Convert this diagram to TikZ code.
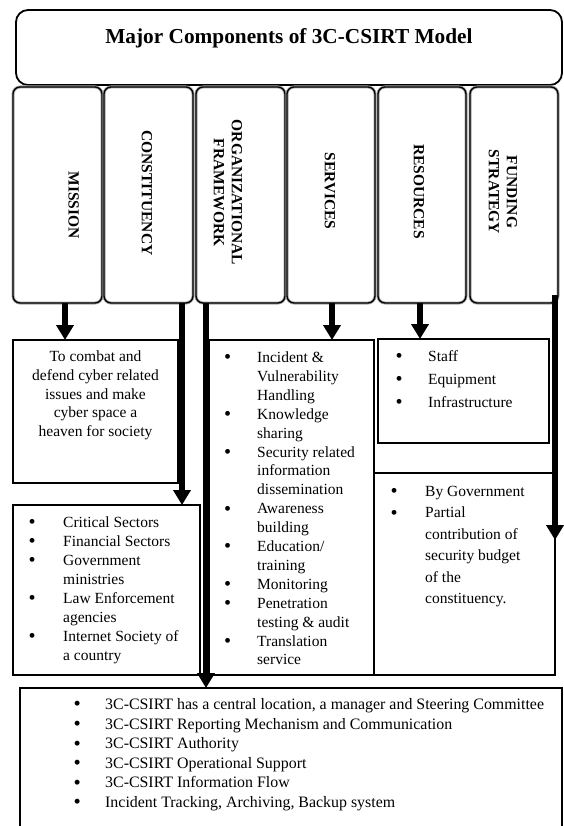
\documentclass[tikz,border=0pt]{standalone}
\usepackage{fontspec}
\setmainfont{Liberation Serif}
\usetikzlibrary{arrows.meta}
\newcommand\blist[2]{\begin{tabular}[t]{@{}p{#1}@{}l@{}}#2\end{tabular}}
\newcommand\bul{\raisebox{-1.4pt}{\scalebox{1.3}{\textbullet}}}
\tikzset{
  col/.style={draw=black, line width=1.3pt, rounded corners=7pt, anchor=north west, inner sep=0pt, outer sep=0pt, preaction={draw=black!35, line width=3pt}},
  box/.style={draw=black, line width=1.4pt, anchor=north west, inner sep=0pt, outer sep=0pt},
  tbox/.style={draw=black, line width=1.8pt, rounded corners=12pt, anchor=north west, inner sep=0pt, outer sep=0pt},
  arr/.style={line width=6.5pt, -{Triangle[width=17pt,length=15pt]}},
  lbl/.style={font=\fontsize{15.5}{18}\selectfont\bfseries, rotate=-90, align=center, inner sep=0pt},
  lst/.style={inner sep=0pt, anchor=base west},
}
\begin{document}
\begin{tikzpicture}[x=1pt, y=-1pt]
\path[use as bounding box, fill=white] (0,0) rectangle (563,826);

% title
\node[tbox, minimum width=546pt, minimum height=75pt] (title) at (16,10) {};
\node[anchor=base, inner sep=0pt, font=\fontsize{21.3}{24}\selectfont\bfseries] (titletext) at (289,44) {Major Components of 3C-CSIRT Model};

% columns
\node[col, minimum width=89pt, minimum height=216pt] (c1) at (13,87) {};
\node[col, minimum width=89pt, minimum height=216pt] (c2) at (104,87) {};
\node[col, minimum width=89pt, minimum height=216pt] (c3) at (196,87) {};
\node[col, minimum width=88pt, minimum height=216pt] (c4) at (287,87) {};
\node[col, minimum width=88pt, minimum height=216pt] (c5) at (378,87) {};
\node[col, minimum width=88pt, minimum height=216pt] (c6) at (470,87) {};

\node[lbl] (l1) at (73.6,205) {MISSION};
\node[lbl] (l2) at (147,193) {CONSTITUENCY};
\node[lbl] (l3) at (228,192.5) {ORGANIZATIONAL\\FRAMEWORK};
\node[lbl] (l4) at (330,191) {SERVICES};
\node[lbl] (l5) at (419,191.5) {RESOURCES};
\node[lbl] (l6) at (503,192) {FUNDING\\STRATEGY};

% boxes
\node[box, minimum width=165pt, minimum height=143pt] (mission) at (13,340) {};
\node[box, minimum width=187pt, minimum height=170pt] (constit) at (13,505) {};
\node[box, minimum width=165pt, minimum height=335pt] (services) at (209,340) {};
\node[box, minimum width=171pt, minimum height=104pt] (resources) at (378,339) {};
\node[box, minimum width=181pt, minimum height=202pt] (funding) at (374,473) {};
\node[box, minimum width=542pt, minimum height=160pt] (bottom) at (20,688) {};

% texts
\node[anchor=base, inner sep=0pt, font=\fontsize{15.5}{18.8}\selectfont] (mtext) at (95.5,361.5)
  {\begin{tabular}[t]{@{}c@{}}To combat and\\defend cyber related\\issues and make\\cyber space a\\heaven for society\end{tabular}};

\node[lst, font=\fontsize{15.5}{19}\selectfont] (ctext) at (28.5,527.5)
  {\blist{34.5pt}{\bul & Critical Sectors\\ \bul & Financial Sectors\\ \bul & Government\\ & ministries\\ \bul & Law Enforcement\\ & agencies\\ \bul & Internet Society of\\ & a country}};

\node[lst, font=\fontsize{15.5}{18.9}\selectfont] (stext) at (224,362.5)
  {\blist{33pt}{\bul & Incident \&\\ & Vulnerability\\ & Handling\\ \bul & Knowledge\\ & sharing\\ \bul & Security related\\ & information\\ & dissemination\\ \bul & Awareness\\ & building\\ \bul & Education/\\ & training\\ \bul & Monitoring\\ \bul & Penetration\\ & testing \& audit\\ \bul & Translation\\ & service}};

\node[lst, font=\fontsize{15.5}{23}\selectfont] (rtext) at (395.5,361.5)
  {\blist{32.5pt}{\bul & Staff\\ \bul & Equipment\\ \bul & Infrastructure}};

\node[lst, font=\fontsize{15.5}{21.4}\selectfont] (ftext) at (390.5,496.5)
  {\blist{34.5pt}{\bul & By Government\\ \bul & Partial\\ & contribution of\\ & security budget\\ & of the\\ & constituency.}};

\node[lst, font=\fontsize{15.9}{19.6}\selectfont] (btext) at (73.5,709.5)
  {\blist{31.5pt}{\bul & 3C-CSIRT has a central location, a manager and Steering Committee\\ \bul & 3C-CSIRT Reporting Mechanism and Communication\\ \bul & 3C-CSIRT Authority\\ \bul & 3C-CSIRT Operational Support\\ \bul & 3C-CSIRT Information Flow\\ \bul & Incident Tracking, Archiving, Backup system}};

% arrows
\coordinate (a1) at ([xshift=7.5pt]c1.south);
\coordinate (a2) at ([xshift=33.5pt]c2.south);
\coordinate (a3) at ([xshift=-34.5pt]c3.south);
\coordinate (a4) at ([xshift=1pt]c4.south);
\coordinate (a5) at ([xshift=-2pt]c5.south);
\coordinate (a6) at ([shift={(-3pt,8pt)}]c6.south east);
\coordinate (ftip) at (555,540);
\draw[arr] (a1) -- (a1 |- mission.north);
\draw[arr] (a2) -- (a2 |- constit.north);
\draw[arr] (a3) -- (a3 |- bottom.north);
\draw[arr] (a4) -- (a4 |- services.north);
\draw[arr] (a5) -- (a5 |- resources.north);
\draw[arr] (a6) -- (ftip);
\end{tikzpicture}
\end{document}
